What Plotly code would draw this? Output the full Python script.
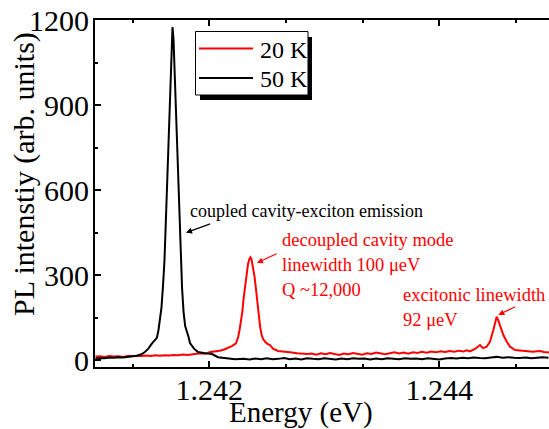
import plotly.graph_objects as go

# ---- PL spectra (energy in eV, intensity in arb. units) ----
black_E = [
    1.24101, 1.24105, 1.24109, 1.24113, 1.24117, 1.24121, 1.24125, 1.24129,
    1.24133, 1.24137, 1.24141, 1.24144, 1.24147, 1.24150,
    1.241544, 1.241558, 1.241571, 1.241584, 1.241597, 1.241610, 1.241624,
    1.241637, 1.241650, 1.241663, 1.241671, 1.241680, 1.241689, 1.241697,
    1.241710, 1.241723, 1.241737, 1.241750, 1.241763, 1.241776, 1.241790,
    1.241819, 1.241832, 1.241867, 1.241902, 1.241963, 1.242023, 1.242076,
    1.242137, 1.242223,
    1.24230, 1.24235, 1.24240, 1.24245, 1.24250, 1.24255, 1.24260, 1.24265,
    1.24270, 1.24275, 1.24280, 1.24285, 1.24290, 1.24295, 1.24300, 1.24305,
    1.24310, 1.24315, 1.24320, 1.24325, 1.24330, 1.24335, 1.24340, 1.24345,
    1.24350, 1.24355, 1.24360, 1.24365, 1.24370, 1.24375, 1.24380, 1.24385,
    1.24390, 1.24395, 1.24400, 1.24405, 1.24410, 1.24415, 1.24420, 1.24425,
    1.24430, 1.24435, 1.24440, 1.24445, 1.24450, 1.24455, 1.24460, 1.24465,
    1.24470, 1.24475, 1.24480, 1.24485, 1.24490, 1.24495,
]
black_I = [
    5, 7, 6, 9, 8, 10, 9, 12,
    13, 15, 20, 28, 40, 58,
    78, 106, 140, 185, 260, 350, 512,
    680, 860, 1030, 1130, 1175, 1130, 1030,
    860, 680, 512, 350, 255, 170, 120,
    82, 60, 40, 28, 24, 21, 10,
    6, 3,
    4, 2, 5, 3, 6, 3, 4, 7,
    3, 5, 2, 6, 4, 3, 6, 4,
    2, 5, 3, 6, 4, 5, 2, 5,
    3, 6, 4, 3, 6, 4, 5, 3,
    6, 4, 2, 5, 7, 5, 8, 6,
    9, 7, 6, 9, 11, 8, 10, 8,
    7, 9, 6, 8, 10, 8,
]

red_E = [
    1.24101, 1.24105, 1.24109, 1.24113, 1.24117, 1.24121, 1.24125, 1.24129,
    1.24133, 1.24137, 1.24141, 1.24145, 1.24149, 1.24153, 1.24157, 1.24161,
    1.24165, 1.24169, 1.24173, 1.24177, 1.24181, 1.24185, 1.24189, 1.24193,
    1.24197, 1.24201, 1.24205, 1.24209, 1.24213, 1.24217, 1.24220,
    1.242232, 1.242250, 1.242263, 1.242276, 1.242287, 1.242297, 1.242310,
    1.242323, 1.242337, 1.242350, 1.242358, 1.242367, 1.242380, 1.242393,
    1.242406, 1.242415, 1.242428, 1.242441, 1.242454, 1.242467, 1.242484,
    1.242502, 1.242528, 1.242554, 1.242597, 1.242641, 1.242702, 1.242763,
    1.242850,
    1.24289, 1.24293, 1.24297, 1.24301, 1.24305, 1.24309, 1.24313, 1.24317,
    1.24321, 1.24325, 1.24329, 1.24333, 1.24337, 1.24341, 1.24345, 1.24349,
    1.24353, 1.24357, 1.24361, 1.24365, 1.24369, 1.24373, 1.24377, 1.24381,
    1.24385, 1.24389, 1.24393, 1.24397, 1.24401, 1.24405, 1.24409, 1.24413,
    1.24417, 1.24421, 1.24424,
    1.244267, 1.244310, 1.244354, 1.244380, 1.244412, 1.244441, 1.244470,
    1.244484, 1.244499, 1.244513, 1.244528, 1.244557, 1.244586, 1.244615,
    1.244658, 1.244728, 1.244770, 1.244815, 1.244850, 1.244876, 1.244910,
    1.244954,
]
red_I = [
    12, 13, 11, 14, 12, 13, 11, 14,
    13, 15, 14, 16, 14, 17, 15, 17,
    16, 18, 17, 19, 18, 21, 22, 24,
    23, 28, 30, 33, 37, 43, 50,
    59, 80, 106, 135, 170, 212, 260,
    305, 340, 358, 362, 355, 330, 295,
    250, 212, 170, 120, 90, 75, 65,
    58, 53, 40, 32, 29, 27, 24,
    21,
    23, 19, 24, 20, 25, 21, 18, 23,
    20, 25, 22, 19, 24, 21, 26, 22,
    20, 24, 27, 23, 26, 22, 27, 25,
    29, 26, 30, 27, 31, 28, 32, 29,
    33, 30, 34,
    30, 39, 53, 42, 47, 65, 106,
    135, 153, 140, 124, 88, 65, 47,
    35, 33, 30, 29, 31, 32, 28,
    26,
]

x_ticks = [1.242, 1.244]
y_ticks = [0, 300, 600, 900, 1200]

W, H = 549, 429
L, R, T, B = 95, 0, 20, 62
PW, PH = W - L - R, H - T - B


def fx(p):
    """pixel column -> paper x"""
    return (p - L) / PW


def fy(p):
    """pixel row -> paper y"""
    return (H - B - p) / PH


FONT = "Liberation Serif"

fig = go.Figure()
fig.add_trace(go.Scatter(x=red_E, y=red_I, mode="lines", name="20 K",
                         line=dict(color="#ff0000", width=2), showlegend=False))
fig.add_trace(go.Scatter(x=black_E, y=black_I, mode="lines", name="50 K",
                         line=dict(color="#000000", width=2), showlegend=False))

fig.update_layout(
    width=W, height=H,
    margin=dict(l=L, r=R, t=T, b=B, pad=0),
    paper_bgcolor="white", plot_bgcolor="white",
    font=dict(family=FONT, color="black", size=26),
    xaxis=dict(
        range=[1.241006, 1.244954], tickvals=x_ticks, tickformat=".3f",
        ticks="inside", ticklen=6, tickwidth=1.5, tickcolor="black",
        minor=dict(tickmode="linear", tick0=1.242, dtick=0.002 / 3,
                   ticks="inside", ticklen=3, tickwidth=1.5, tickcolor="black"),
        showline=True, linewidth=2, linecolor="black", mirror="ticks",
        showgrid=False, zeroline=False, ticklabelstandoff=-5,
        tickfont=dict(size=30, family=FONT),
    ),
    yaxis=dict(
        range=[-24.7, 1200], tickvals=y_ticks,
        ticks="inside", ticklen=6, tickwidth=1.5, tickcolor="black",
        minor=dict(tickmode="linear", tick0=0, dtick=150,
                   ticks="inside", ticklen=3, tickwidth=1.5, tickcolor="black"),
        showline=True, linewidth=2, linecolor="black",
        showgrid=False, zeroline=False, ticklabelstandoff=-2,
        tickfont=dict(size=30, family=FONT),
    ),
    yaxis2=dict(
        overlaying="y", side="right", range=[-24.7, 1200], tickvals=y_ticks,
        ticks="inside", ticklen=5, tickwidth=1.5, tickcolor="black",
        showticklabels=False, showline=False, showgrid=False, zeroline=False,
    ),
)

# axis titles
fig.add_annotation(text="Energy (eV)", xref="paper", yref="paper",
                   x=fx(301), y=fy(412), xanchor="center", yanchor="middle",
                   showarrow=False, font=dict(size=29, family=FONT))
fig.add_annotation(text="PL intenstiy (arb. units)", xref="paper", yref="paper",
                   x=fx(24), y=fy(174), xanchor="center", yanchor="middle",
                   textangle=-90, showarrow=False,
                   font=dict(size=30, family=FONT))

# legend box with drop shadow
fig.add_shape(type="rect", xref="paper", yref="paper",
              x0=fx(200), x1=fx(312), y0=fy(100), y1=fy(37),
              fillcolor="black", line=dict(width=0))
fig.add_shape(type="rect", xref="paper", yref="paper",
              x0=fx(195.5), x1=fx(308), y0=fy(95), y1=fy(31.5),
              fillcolor="white", line=dict(color="black", width=1))
fig.add_shape(type="line", xref="paper", yref="paper",
              x0=fx(199), x1=fx(253), y0=fy(48.5), y1=fy(48.5),
              line=dict(color="#ff0000", width=2))
fig.add_shape(type="line", xref="paper", yref="paper",
              x0=fx(199), x1=fx(253), y0=fy(78), y1=fy(78),
              line=dict(color="black", width=2))
for label, yy in [("20 K", 50), ("50 K", 79)]:
    fig.add_annotation(text=label, xref="paper", yref="paper",
                       x=fx(258), y=fy(yy), xanchor="left", yanchor="middle",
                       showarrow=False, font=dict(size=24, family=FONT))

# peak labels
notes = [
    ("coupled cavity-exciton emission", 188, 211, "black", 18),
    ("decoupled cavity mode", 280, 240, "#ff0000", 18.5),
    ("linewidth 100 \u03bceV", 280, 265, "#ff0000", 18.5),
    ("Q ~12,000", 280, 290, "#ff0000", 18.5),
    ("excitonic linewidth", 401, 295, "#ff0000", 18.5),
    ("92 \u03bceV", 401, 320, "#ff0000", 18.5),
]
for txt, xx, yy, col, sz in notes:
    fig.add_annotation(text=txt, xref="paper", yref="paper",
                       x=fx(xx), y=fy(yy), xanchor="left", yanchor="middle",
                       showarrow=False, font=dict(size=sz, color=col, family=FONT))

# arrows pointing at the peaks (head position, tail offset in px)
arrows = [
    (186, 232.7, 25.7, -9.4, "black"),
    (257, 263, 21, -10, "#ff0000"),
    (498.3, 315, 18.4, -9, "#ff0000"),
]
for hx, hy, dx, dy, col in arrows:
    fig.add_annotation(text="", xref="paper", yref="paper",
                       x=fx(hx), y=fy(hy), ax=dx, ay=dy,
                       showarrow=True, arrowhead=2, arrowsize=1,
                       arrowwidth=1.2, arrowcolor=col, standoff=0)

fig.write_html("out.html")
